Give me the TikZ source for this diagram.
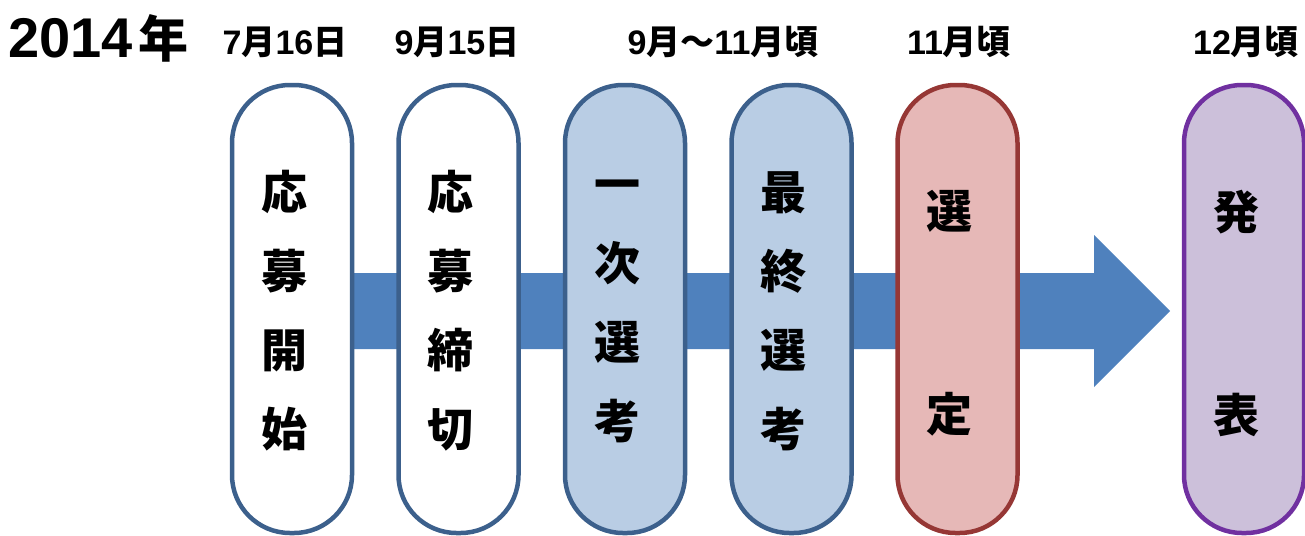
\documentclass[tikz,border=0pt]{standalone}
\usepackage{fontspec}
\newfontfamily\cjk{Noto Sans CJK JP}
\newfontfamily\lat{Liberation Sans}
\newcommand\dg[1]{{\lat\bfseries #1}}
\definecolor{arrowblue}{RGB}{79,129,189}
\definecolor{bordblue}{RGB}{60,96,140}
\definecolor{lightblue}{RGB}{185,205,228}
\definecolor{pinkfill}{RGB}{230,184,183}
\definecolor{redbord}{RGB}{150,55,53}
\definecolor{lavfill}{RGB}{204,192,218}
\definecolor{purpbord}{RGB}{112,48,160}
\tikzset{
  pill/.style={draw, rectangle, rounded corners=58pt, minimum width=120pt, minimum height=448pt, inner sep=0pt, line width=4.5pt},
  pilltext/.style={inner sep=0pt, align=center, font=\cjk\bfseries\fontsize{46pt}{79pt}\selectfont},
  pilltextb/.style={inner sep=0pt, align=center, font=\cjk\bfseries\fontsize{46pt}{203pt}\selectfont},
  datelbl/.style={inner sep=0pt, anchor=base, font=\cjk\bfseries\fontsize{34pt}{36pt}\selectfont},
}
\begin{document}
\begin{tikzpicture}[x=1pt,y=-1pt]
\useasboundingbox (0,0) rectangle (1305,535);
% arrow
\coordinate (tip) at (1170,311);
\fill[arrowblue] (292,273) -- (1094,273) -- (1094,235) -- (tip) -- (1094,387) -- (1094,349) -- (292,349) -- cycle;
% pills
\node[pill, bordblue, fill=white] (p1) at (292,309) {};
\node[pill, bordblue, fill=white] (p2) at (458.5,309) {};
\node[pill, bordblue, fill=lightblue] (p3) at (625,309) {};
\node[pill, bordblue, fill=lightblue] (p4) at (791.5,309) {};
\node[pill, redbord, fill=pinkfill] (p5) at (957.5,309) {};
\node[pill, purpbord, fill=lavfill] (p6) at (1244,309) {};
% texts
\node[pilltext] (t1) at ([xshift=-7.5pt,yshift=-2pt]p1.center) {応\\募\\開\\始};
\node[pilltext] (t2) at ([xshift=-8pt,yshift=-2pt]p2.center) {応\\募\\締\\切};
\node[pilltext] (t3) at ([xshift=-8pt,yshift=-2pt]p3.center) {一\\次\\選\\考};
\node[pilltext] (t4) at ([xshift=-8pt,yshift=-2pt]p4.center) {最\\終\\選\\考};
\node[pilltextb] (t5) at ([xshift=-8pt,yshift=-4pt]p5.center) {選\\定};
\node[pilltextb] (t6) at ([xshift=-8pt,yshift=-4pt]p6.center) {発\\表};
% year and dates
\node[inner sep=0pt, anchor=base west, font=\cjk\bfseries\fontsize{50pt}{60pt}\selectfont] (year) at (8,58) {{\lat\bfseries\fontsize{56pt}{60pt}\selectfont 2014}\hspace{6pt}年};
\node[datelbl] (d1) at (285,55) {\dg{7}月\dg{16}日};
\node[datelbl] (d2) at (457,55) {\dg{9}月\dg{15}日};
\node[datelbl] (d3) at (723,55) {\dg{9}月〜\dg{11}月頃};
\node[datelbl] (d4) at (959,55) {\dg{11}月頃};
\node[datelbl] (d5) at (1246,55) {\dg{12}月頃};
\end{tikzpicture}
\end{document}
